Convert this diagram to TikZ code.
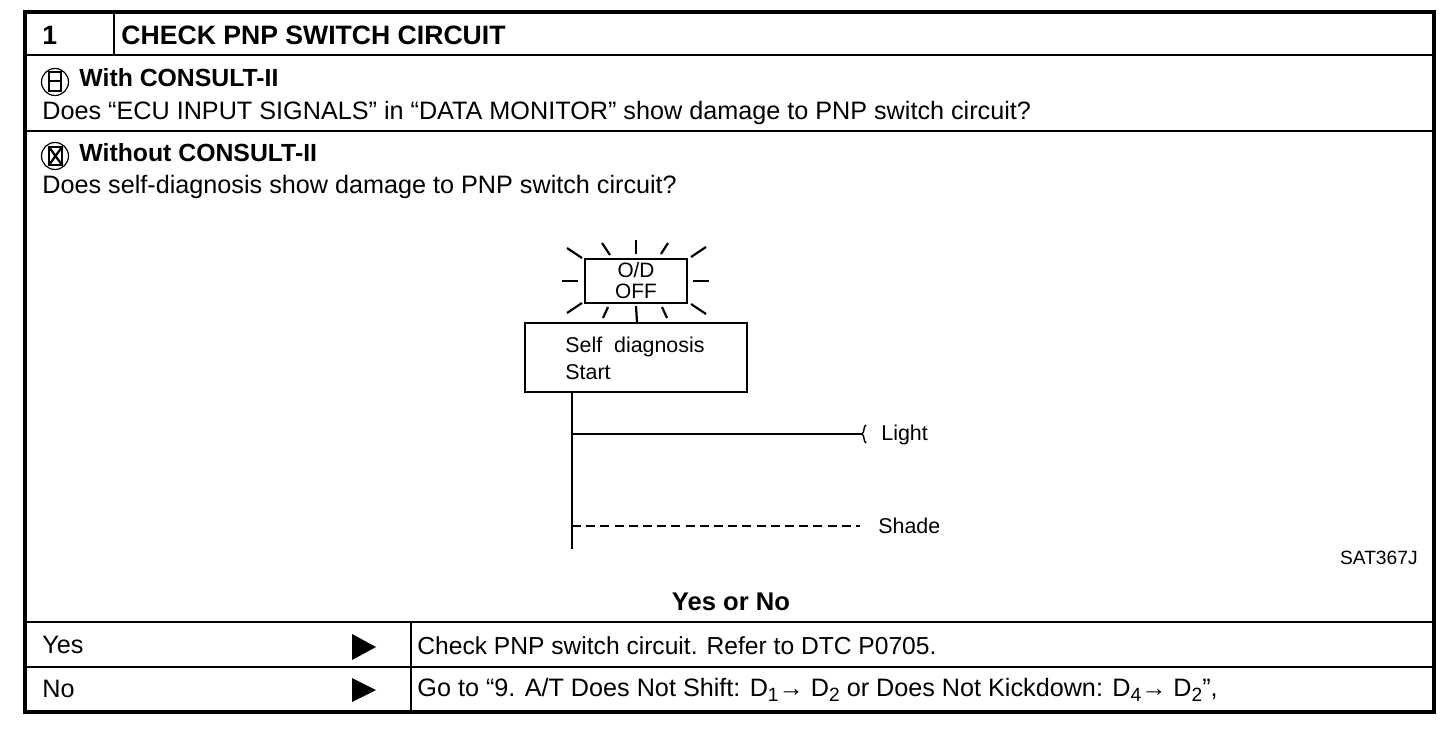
\documentclass[tikz,border=0pt]{standalone}
\usepackage{fontspec}
\setmainfont{Liberation Sans}
\usetikzlibrary{positioning, calc}
\newcommand{\lowidx}[1]{\raisebox{-2.8pt}{\fontsize{9.6}{10}\selectfont #1}}
\begin{document}
\begin{tikzpicture}[
  x=0.5pt, y=-0.5pt,
  font=\fontsize{12.6}{14}\selectfont,
  txt/.style={anchor=base west, inner sep=0pt},
  head/.style={txt, font=\fontsize{12.4}{14}\selectfont\bfseries},
  small/.style={txt, font=\fontsize{10.7}{12}\selectfont},
  frameline/.style={line width=2.2pt, draw=black},
  rowline/.style={line width=1.2pt, draw=black},
  ray/.style={line width=1.1pt, draw=black},
  lampbox/.style={rectangle, draw=black, line width=1pt, minimum width=51pt, minimum height=22pt,
                  inner sep=0pt, align=center},
  diagbox/.style={rectangle, draw=black, line width=1pt, minimum width=111pt, minimum height=34.5pt},
  medal/.style={circle, draw=black, line width=0.6pt, minimum size=13.5pt, inner sep=0pt},
  pointer/.style={fill=black, draw=none}
]
\useasboundingbox (0,0) rectangle (1456,744);
\fill[white] (0,0) rectangle (1456,744);
% Table rules
\draw[rowline] (25,55) -- (1434,55);
\draw[rowline] (25,131) -- (1434,131);
\draw[rowline] (25,622) -- (1434,622);
\draw[rowline] (25,667) -- (1434,667);
\draw[rowline] (114,12) -- (114,55);
\draw[rowline] (411,622) -- (411,712);
\draw[frameline] (25,12) rectangle (1434,712);
% Header row
\node[head, font=\fontsize{13.3}{15}\selectfont\bfseries] (num) at (42,44) {1};
\node[head, font=\fontsize{13.3}{15}\selectfont\bfseries] (title) at (121,44) {CHECK PNP SWITCH CIRCUIT};
% With tester
\node[medal] (with) at (55,82) {};
\draw[line width=0.7pt] (49,72) rectangle (61,91);
\draw[line width=0.7pt] (49,81) -- (61,81);
\node[head] (withlabel) at (79,86) {With CONSULT-II};
\node[txt] (withtext) at (42,119) {Does “ECU INPUT SIGNALS” in “DATA MONITOR” show damage to PNP switch circuit?};
% Without tester
\node[medal] (without) at (55,156) {};
\draw[line width=0.7pt] (49,147) rectangle (62,165);
\draw[line width=1.1pt] (49,147) -- (62,165) (62,147) -- (49,165);
\node[head] (withoutlabel) at (79,161) {Without CONSULT-II};
\node[txt] (withouttext) at (42,193) {Does self-diagnosis show damage to PNP switch circuit?};
% Lamp with its rays
\foreach \xa/\ya/\xb/\yb in {567/248/582/258, 602/243/610/255, 636/240/636/254, 668/243/661/254,
    706/247/691/257, 562/281/578/281, 693/281/709/281, 567/313/582/303, 603/318/608/307,
    636/306/637/322, 662/307/667/318, 691/304/706/314}
  \draw[ray] (\xa,\ya) -- (\xb,\yb);
\node[lampbox, font=\fontsize{10.4}{10.5}\selectfont] (lamp) at (636,281) {O/D\\OFF};
\node[diagbox] (diag) at (636,357.5) {};
\node[small] (selfdiag) at (565,352) {Self\ \ diagnosis};
\node[small] (start) at (565,379) {Start};
% Time chart
\coordinate (stemtop) at (572,392);
\coordinate (stemend) at (572,549);
\coordinate (lightfrom) at (572,434);
\coordinate (lightto) at (862,434);
\coordinate (shadefrom) at (572,526);
\coordinate (shadeto) at (860,526);
\draw[rowline] (stemtop) -- (stemend);
\draw[rowline] (lightfrom) -- (lightto);
\draw[line width=0.7pt] (lightto) .. controls (865,432) and (863,426) .. (866,425);
\draw[line width=0.7pt] (lightto) .. controls (865,436) and (863,441) .. (866,443);
\draw[rowline, dash pattern=on 4.5pt off 2.6pt] (shadefrom) -- (shadeto);
\node[small] (light) at (881,440) {Light};
\node[small] (shade) at (878,533) {Shade};
\node[small, anchor=base east, font=\fontsize{9.6}{10}\selectfont] (code) at (1418,564) {SAT367J};
% Answers
\node[head, anchor=base, font=\fontsize{12.8}{14}\selectfont\bfseries] (yesorno) at (731,610) {Yes or No};
\node[txt] (yes) at (42,653) {Yes};
\node[txt] (no) at (42,697) {No};
\fill[pointer] (352,634) -- (376,647) -- (352,660) -- cycle;
\fill[pointer] (352,678) -- (376,690) -- (352,702) -- cycle;
\node[txt, font=\fontsize{12.3}{14}\selectfont] (yestext) at (417,654) {Check PNP switch circuit. Refer to DTC P0705.};
\node[txt] (notext) at (417,696) {Go to “9. A/T Does Not Shift: D\lowidx{1}→ D\lowidx{2} or Does Not Kickdown: D\lowidx{4}→ D\lowidx{2}”,};
\end{tikzpicture}
\end{document}
